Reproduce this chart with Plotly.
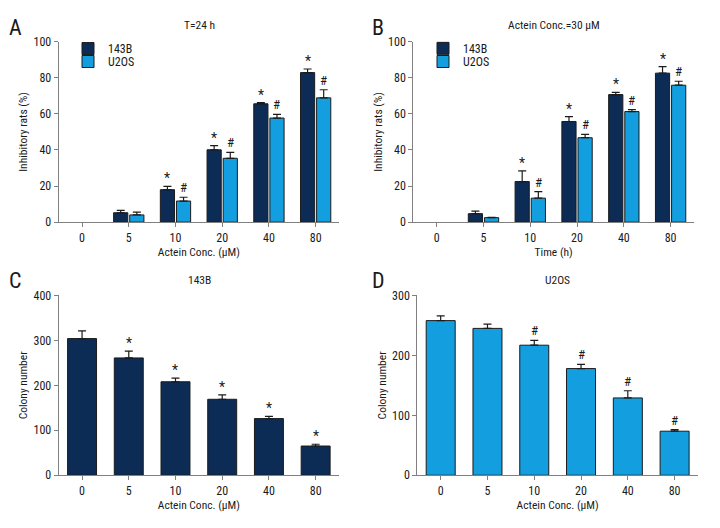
import plotly.graph_objects as go

categories = ["0", "5", "10", "20", "40", "80"]

a_143b = [0, 5.2, 18.0, 40.1, 65.6, 82.9]
a_143b_err = [0, 1.3, 1.8, 2.3, 0.6, 2.0]
a_u2os = [0, 4.0, 11.7, 35.4, 57.7, 68.9]
a_u2os_err = [0, 1.6, 2.1, 3.3, 2.0, 4.5]
a_143b_sig = ["", "", "*", "*", "*", "*"]
a_u2os_sig = ["", "", "#", "#", "#", "#"]

b_143b = [0, 4.7, 22.5, 55.8, 70.7, 82.6]
b_143b_err = [0, 1.4, 5.9, 2.7, 1.2, 3.6]
b_u2os = [0, 2.5, 13.3, 46.8, 61.3, 75.9]
b_u2os_err = [0, 0.2, 3.6, 1.9, 1.1, 2.2]
b_143b_sig = ["", "", "*", "*", "*", "*"]
b_u2os_sig = ["", "", "#", "#", "#", "#"]

c_143b = [304, 261, 208, 169, 126, 65]
c_143b_err = [17, 15, 8, 10, 5, 4]
c_sig = ["", "*", "*", "*", "*", "*"]

d_u2os = [258, 245, 217, 178, 129, 73.5]
d_u2os_err = [8, 7, 8, 7, 12, 2.5]
d_sig = ["", "", "#", "#", "#", "#"]

NAVY = "#0c2c56"
BLUE = "#139fdf"
OUTLINE = "#1b1b1b"
AXIS = "#808080"
TXT = "#1a1a1a"
FONT = "Roboto Condensed, Liberation Sans Narrow, DejaVu Sans Condensed, Roboto, sans-serif"

BARGAP = 0.31
GROUPGAP = 0.12

fig = go.Figure()


def add_bar(name, vals, errs, color, xa, ya, legend="legend", showlegend=False, width=None):
    # zero-valued bars are not drawn (no outline, no error cap)
    shown = [v if v else None for v in vals]
    err_plus = [e if v else None for v, e in zip(vals, errs)]
    err_minus = [0 if v else None for v in vals]
    fig.add_trace(go.Bar(
        x=categories, y=shown, name=name,
        marker=dict(color=color, line=dict(color=OUTLINE, width=1)),
        error_y=dict(type="data", array=err_plus, arrayminus=err_minus, symmetric=False,
                     color=OUTLINE, thickness=1.2, width=4),
        xaxis=xa, yaxis=ya, showlegend=showlegend, legend=legend,
        width=width,
    ))


add_bar("143B", a_143b, a_143b_err, NAVY, "x", "y", "legend", True)
add_bar("U2OS", a_u2os, a_u2os_err, BLUE, "x", "y", "legend2", True)
add_bar("143B", b_143b, b_143b_err, NAVY, "x2", "y2", "legend3", True)
add_bar("U2OS", b_u2os, b_u2os_err, BLUE, "x2", "y2", "legend4", True)
add_bar("143B", c_143b, c_143b_err, NAVY, "x3", "y3", width=0.62)
add_bar("U2OS", d_u2os, d_u2os_err, BLUE, "x4", "y4", width=0.62)

annotations = []
off = (1 - BARGAP) / 4


def sig_marks(vals, errs, sigs, xref, yref, dx):
    for i, (v, e, s) in enumerate(zip(vals, errs, sigs)):
        if s:
            star = s == "*"
            annotations.append(dict(
                x=i + dx, y=v + e, xref=xref, yref=yref, text=s, showarrow=False,
                yanchor="bottom", xanchor="center", yshift=-2 if star else 0,
                font=dict(family=FONT, size=14 if star else 13, color=TXT)))


sig_marks(a_143b, a_143b_err, a_143b_sig, "x", "y", -off)
sig_marks(a_u2os, a_u2os_err, a_u2os_sig, "x", "y", off)
sig_marks(b_143b, b_143b_err, b_143b_sig, "x2", "y2", -off)
sig_marks(b_u2os, b_u2os_err, b_u2os_sig, "x2", "y2", off)
sig_marks(c_143b, c_143b_err, c_sig, "x3", "y3", 0)
sig_marks(d_u2os, d_u2os_err, d_sig, "x4", "y4", 0)

titles = [("T=24 h", 199), ("Actein Conc.=30 μM", 553.5), ("143B", 199), ("U2OS", 557.5)]
title_y = [19, 19, 280, 280]
for (t, xp), yp in zip(titles, title_y):
    annotations.append(dict(x=xp / 720, y=1 - yp / 528, xref="paper", yref="paper", text=t,
                            showarrow=False, xanchor="center", yanchor="middle",
                            font=dict(family=FONT, size=11.5, color=TXT)))

letters = [("A", 15, 21), ("B", 378, 21), ("C", 15, 281), ("D", 378, 281)]
for t, xp, yp in letters:
    annotations.append(dict(x=xp / 720, y=1 - yp / 528, xref="paper", yref="paper", text=t,
                            showarrow=False, xanchor="center", yanchor="middle",
                            font=dict(family=FONT, size=22, color=TXT)))


def xaxis(dom, title, anchor):
    return dict(domain=dom, anchor=anchor, type="category", range=[-0.5, 5.5],
                showline=True, linecolor=AXIS, linewidth=1, ticks="outside", ticklen=4,
                tickcolor=AXIS, showgrid=False, zeroline=False,
                tickfont=dict(family=FONT, size=12, color=TXT),
                title=dict(text=title, standoff=3, font=dict(family=FONT, size=11.5, color=TXT)))


def yaxis(dom, title, anchor, rng, dtick):
    return dict(domain=dom, anchor=anchor, range=rng, dtick=dtick,
                showline=True, linecolor=AXIS, linewidth=1, ticks="outside", ticklen=4,
                tickcolor=AXIS, showgrid=False, zeroline=False,
                tickfont=dict(family=FONT, size=12, color=TXT),
                title=dict(text=title, standoff=3, font=dict(family=FONT, size=11.5, color=TXT)))


top_dom = [1 - 221 / 528, 1 - 35.7 / 528]
bot_dom = [1 - 481 / 528, 1 - 296.3 / 528]


def leg(xp, yp):
    return dict(x=xp / 720, y=1 - yp / 528, xanchor="left", yanchor="middle",
                bgcolor="rgba(0,0,0,0)", font=dict(family=FONT, size=12, color=TXT),
                itemwidth=30)


fig.update_layout(
    width=720, height=528,
    margin=dict(l=0, r=0, t=0, b=0),
    paper_bgcolor="white", plot_bgcolor="white",
    barmode="group", bargap=BARGAP, bargroupgap=GROUPGAP,
    font=dict(family=FONT, size=12, color=TXT),
    xaxis=xaxis([58.7 / 720, 339 / 720], "Actein Conc. (μM)", "y"),
    yaxis=yaxis(top_dom, "Inhibitory rats (%)", "x", [0, 100], 20),
    xaxis2=xaxis([413.3 / 720, 694 / 720], "Time (h)", "y2"),
    yaxis2=yaxis(top_dom, "Inhibitory rats (%)", "x2", [0, 100], 20),
    xaxis3=xaxis([58.7 / 720, 339 / 720], "Actein Conc. (μM)", "y3"),
    yaxis3=yaxis(bot_dom, "Colony number", "x3", [0, 400], 100),
    xaxis4=xaxis([417.3 / 720, 698 / 720], "Actein Conc. (μM)", "y4"),
    yaxis4=yaxis(bot_dom, "Colony number", "x4", [0, 300], 100),
    legend=leg(68, 42.7),
    legend2=leg(68, 56),
    legend3=leg(423, 42.5),
    legend4=leg(423, 56),
    annotations=annotations,
)

fig.write_html("out.html", config={"displayModeBar": False},
               post_script="document.body.style.margin='0';document.body.style.overflow='hidden';")
